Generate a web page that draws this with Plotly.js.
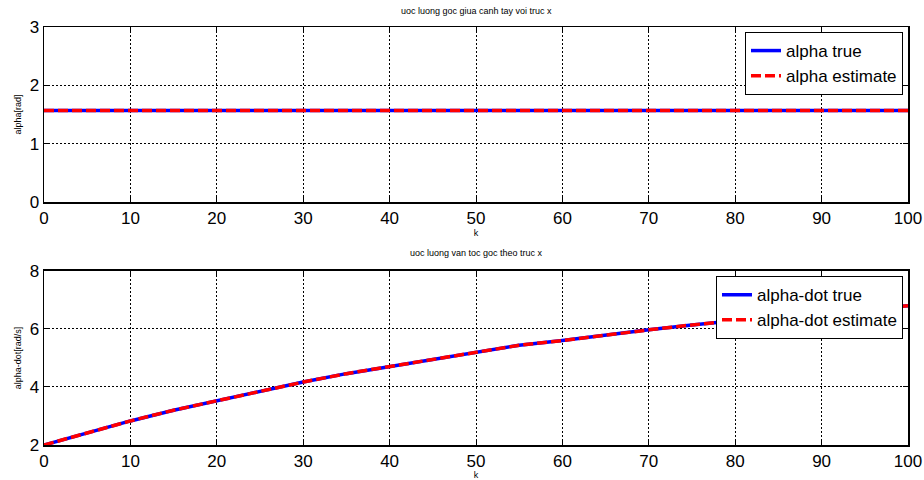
<!DOCTYPE html>
<html>
<head>
<meta charset="utf-8">
<script src="https://cdn.plot.ly/plotly-3.0.1.min.js"></script>
<style>html,body{margin:0;padding:0;background:#fff;}#chart{width:924px;height:480px;}</style>
</head>
<body>
<div id="chart"></div>
<script>
// Top panel data
const kTop = [0, 10, 20, 30, 40, 50, 60, 70, 80, 90, 100];
const alphaTrue = [1.57, 1.57, 1.57, 1.57, 1.57, 1.57, 1.57, 1.57, 1.57, 1.57, 1.57];
const alphaEst  = [1.57, 1.57, 1.57, 1.57, 1.57, 1.57, 1.57, 1.57, 1.57, 1.57, 1.57];
// Bottom panel data
const kBot = [0, 5, 10, 15, 20, 25, 30, 35, 40, 45, 50, 55, 60, 65, 70, 75, 80, 85, 90, 95, 100];
const alphaDotTrue = [2.00, 2.42, 2.83, 3.20, 3.53, 3.87, 4.17, 4.46, 4.70, 4.95, 5.21, 5.44, 5.60, 5.79, 5.97, 6.14, 6.30, 6.44, 6.57, 6.69, 6.80];
const alphaDotEst  = [2.00, 2.42, 2.83, 3.20, 3.53, 3.87, 4.17, 4.46, 4.70, 4.95, 5.21, 5.44, 5.60, 5.79, 5.97, 6.14, 6.30, 6.44, 6.57, 6.69, 6.80];
// Texts
const titleTop = "uoc luong goc giua canh tay voi truc x";
const titleBot = "uoc luong van toc goc theo truc x";
const xLabel = "k";
const yLabelTop = "alpha[rad]";
const yLabelBot = "alpha-dot[rad/s]";
const namesTop = ["alpha true", "alpha estimate"];
const namesBot = ["alpha-dot true", "alpha-dot estimate"];

const FONT = "Liberation Sans, Arial, sans-serif";
const BLUE = "#0000ff", RED = "#ff0000";
const DASH = "10px,4px";

const traces = [
  {x: kTop, y: alphaTrue, name: namesTop[0], mode: "lines", line: {color: BLUE, width: 3.5}, xaxis: "x", yaxis: "y", legend: "legend"},
  {x: kTop, y: alphaEst, name: namesTop[1], mode: "lines", line: {color: RED, width: 3.5, dash: DASH}, xaxis: "x", yaxis: "y", legend: "legend"},
  {x: kBot, y: alphaDotTrue, name: namesBot[0], mode: "lines", line: {color: BLUE, width: 3.5}, xaxis: "x2", yaxis: "y2", legend: "legend2"},
  {x: kBot, y: alphaDotEst, name: namesBot[1], mode: "lines", line: {color: RED, width: 3.5, dash: DASH}, xaxis: "x2", yaxis: "y2", legend: "legend2"}
];

function xax(anchor){
  return {
    anchor: anchor, domain: [0, 1], range: [0, 100], dtick: 10, tick0: 0,
    showline: true, mirror: "ticks", linecolor: "#000", linewidth: 1.5,
    ticks: "inside", ticklen: 5, tickcolor: "#000",
    showgrid: true, gridcolor: "#000", gridwidth: 1, griddash: "2px,2px",
    zeroline: false, tickfont: {family: FONT, size: 17, color: "#000"},
    title: {text: xLabel, font: {family: FONT, size: 9, color: "#000"}, standoff: 0},
    automargin: false
  };
}
function yax(anchor, domain, range, dtick, label){
  return {
    anchor: anchor, domain: domain, range: range, dtick: dtick,
    showline: true, mirror: "ticks", linecolor: "#000", linewidth: 1.5,
    ticks: "inside", ticklen: 5, tickcolor: "#000",
    showgrid: true, gridcolor: "#000", gridwidth: 1, griddash: "2px,2px",
    zeroline: false, tickfont: {family: FONT, size: 17, color: "#000"},
    title: {text: label, font: {family: FONT, size: 9, color: "#000"}, standoff: 6},
    automargin: false
  };
}

const legendStyle = {
  bgcolor: "#fff", bordercolor: "#000", borderwidth: 1,
  font: {family: FONT, size: 17, color: "#000"},
  xref: "paper", yref: "paper", xanchor: "right", yanchor: "top",
  itemwidth: 30, traceorder: "normal"
};

const layout = {
  width: 924, height: 480,
  margin: {l: 44, r: 16, t: 27, b: 35},
  paper_bgcolor: "#fff", plot_bgcolor: "#fff",
  showlegend: true,
  xaxis: xax("y"),
  yaxis: yax("x", [0.5813, 1], [0, 3], 1, yLabelTop),
  xaxis2: xax("y2"),
  yaxis2: yax("x2", [0, 0.4163], [2, 8], 2, yLabelBot),
  legend: Object.assign({x: 0.9942, y: 0.988}, legendStyle),
  legend2: Object.assign({x: 0.9942, y: 0.404}, legendStyle),
  annotations: [
    {text: titleTop, xref: "paper", yref: "paper", x: 0.5, y: 1.022, xanchor: "center", yanchor: "bottom", showarrow: false, font: {family: FONT, size: 9, color: "#000"}},
    {text: titleBot, xref: "paper", yref: "paper", x: 0.5, y: 0.443, xanchor: "center", yanchor: "bottom", showarrow: false, font: {family: FONT, size: 9, color: "#000"}}
  ]
};

Plotly.newPlot("chart", traces, layout, {displayModeBar: false, staticPlot: true});
</script>
</body>
</html>
